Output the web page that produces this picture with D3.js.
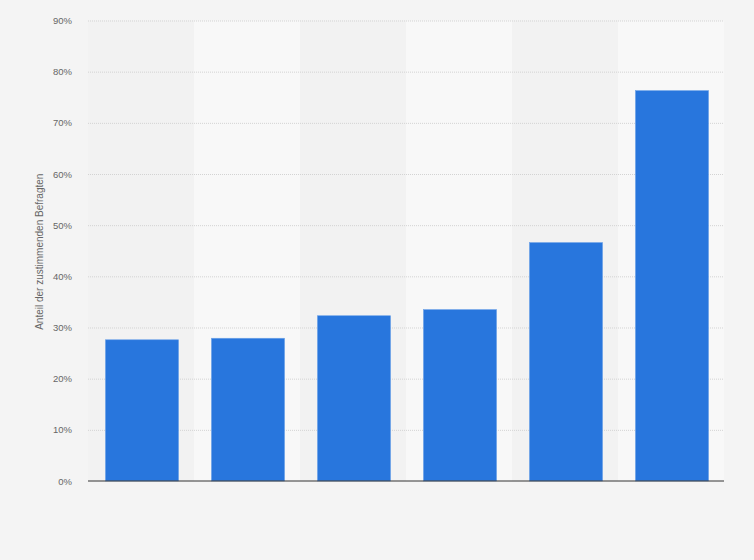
<!DOCTYPE html>
<html>
<head>
<meta charset="utf-8">
<script src="https://cdn.jsdelivr.net/npm/d3@7"></script>
<style>
  body { margin: 0; background: #f4f4f4; }
  svg { display: block; font-family: "Liberation Sans", Arial, sans-serif; }
</style>
</head>
<body>
<svg width="754" height="560"></svg>
<script>
// Daten (ohne Kategorienamen im Bild)
const categories = ["A", "B", "C", "D", "E", "F"];
const values = [27.6, 27.9, 32.3, 33.5, 46.6, 76.3];
const yTicks = [0, 10, 20, 30, 40, 50, 60, 70, 80, 90];
const yTitle = "Anteil der zustimmenden Befragten";

const svg = d3.select("svg");
const width = 754;
const height = 560;
const margin = {top: 20.5, right: 30, bottom: 79, left: 88};

svg.append("rect")
    .attr("width", width)
    .attr("height", height)
    .attr("fill", "#f4f4f4");

const x = d3.scaleBand()
    .domain(categories)
    .range([margin.left + 1, width - margin.right + 1])
    .paddingInner(0.31)
    .paddingOuter(0.155);

const y = d3.scaleLinear()
    .domain([0, 90])
    .range([height - margin.bottom, margin.top]);

// alternating column bands
const step = x.step();
svg.append("g")
    .selectAll("rect")
    .data(categories)
    .enter()
    .append("rect")
    .attr("x", d => x(d) - 1 - (step - x.bandwidth()) / 2)
    .attr("y", y(90))
    .attr("width", step)
    .attr("height", y(0) - y(90))
    .attr("fill", (d, i) => i % 2 === 1 ? "#f8f8f8" : "#f2f2f2");

// grid + tick labels
const yAxis = d3.axisLeft(y)
    .tickValues(yTicks)
    .tickFormat(d => d + "%")
    .tickSize(-(width - margin.left - margin.right))
    .tickPadding(16);

const gy = svg.append("g")
    .attr("transform", `translate(${margin.left},0)`)
    .call(yAxis);
gy.select(".domain").remove();
gy.selectAll(".tick line")
    .attr("stroke", "#d3d3d3")
    .attr("stroke-dasharray", "1,1")
    .attr("stroke-width", 1);
gy.selectAll(".tick").filter(d => d === 0).select("line").remove();
gy.selectAll(".tick text")
    .attr("font-family", "'Liberation Sans', Arial, sans-serif")
    .attr("fill", "#666")
    .attr("font-size", 9.5);

// bars
svg.append("g")
    .selectAll("rect")
    .data(values)
    .enter()
    .append("rect")
    .attr("x", (d, i) => x(categories[i]))
    .attr("y", d => y(d))
    .attr("width", x.bandwidth())
    .attr("height", d => y(0) - y(d))
    .attr("fill", "#2876dd")
    .attr("stroke", "#6fa3e8")
    .attr("stroke-width", 0.6);

// baseline
svg.append("line")
    .attr("x1", margin.left)
    .attr("x2", width - margin.right)
    .attr("y1", y(0))
    .attr("y2", y(0))
    .attr("stroke", "#333")
    .attr("stroke-width", 1.2);

// y axis title
svg.append("text")
    .attr("transform", `translate(43,${y(45) + 1}) rotate(-90)`)
    .attr("text-anchor", "middle")
    .attr("fill", "#666")
    .attr("font-size", 10)
    .text(yTitle);
</script>
</body>
</html>
